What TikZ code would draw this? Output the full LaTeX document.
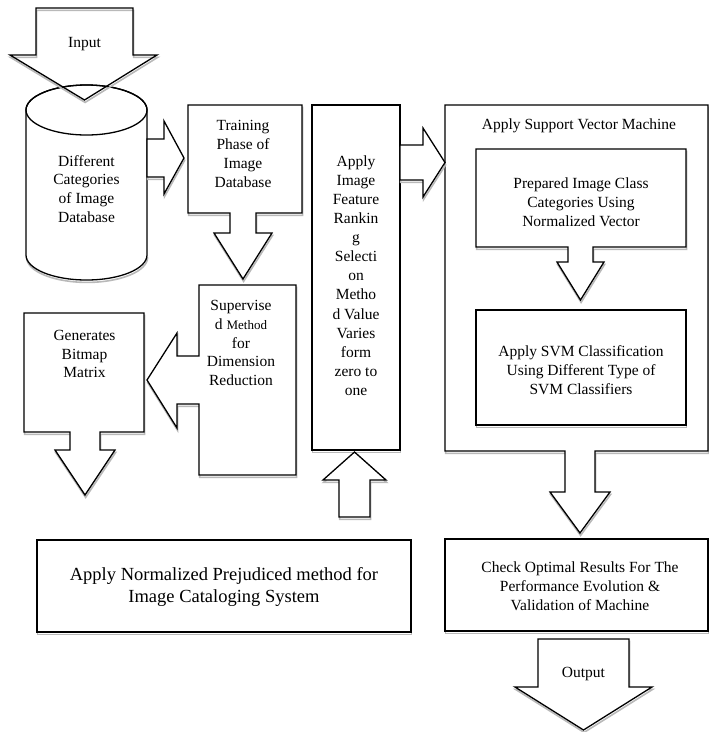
\documentclass[tikz,border=0pt]{standalone}
\usepackage{fontspec}
\setmainfont{Liberation Serif}
\newcommand\mkshape[2]{\draw[shd,shift={(0.6,2.4)}] #2; \path[#1] #2;}
\begin{document}
\begin{tikzpicture}[x=1pt,y=-1pt,
  shp/.style={draw=black, line width=1.3pt, fill=white, line join=miter},
  shpnofill/.style={draw=black, line width=1.3pt, line join=miter},
  shd/.style={draw=gray!55, line width=1.6pt},
  txt/.style={align=center, inner sep=0pt, font=\fontsize{15.5}{18.8}\selectfont}]
\useasboundingbox (0,0) rectangle (709,732);

% SVM outer callout with down arrow
\mkshape{shp}{(445,105) -- (708,105) -- (708,451) -- (595,451) -- (595,492) -- (610,492) -- (580,533) -- (550,492) -- (565,492) -- (565,451) -- (445,451) -- cycle}
% inner box 1 callout
\mkshape{shp}{(476,149) -- (686,149) -- (686,247) -- (593,247) -- (593,262) -- (604,262) -- (580.5,300) -- (557,262) -- (568,262) -- (568,247) -- (476,247) -- cycle}
% inner box 2
\mkshape{shp}{(476,310) rectangle (686,425)}
% check box
\mkshape{shp}{(445,539) rectangle (708,631)}
% output arrow
\mkshape{shp}{(538,639) -- (629,639) -- (629,687) -- (652,687) -- (583.5,730) -- (515,687) -- (538,687) -- cycle}
% normalized box
\mkshape{shp}{(37,540) rectangle (411,632)}
% ranking box
\mkshape{shp}{(312,105) rectangle (400,450)}
% ranking -> svm arrow
\mkshape{shp}{(400,145) -- (423,145) -- (423,128) -- (445,162.5) -- (423,197) -- (423,180) -- (400,180) -- cycle}
% up arrow into ranking box
\mkshape{shp}{(354.5,452) -- (386,480) -- (370,480) -- (370,517) -- (339,517) -- (339,480) -- (323,480) -- cycle}
% cylinder
\draw[shd,shift={(0.6,2.4)}] (26,255) arc[start angle=180,end angle=360,x radius=60.5pt,y radius=25pt];
\path[shp] (26,110) -- (26,255) arc[start angle=180,end angle=360,x radius=60.5pt,y radius=25pt] -- (147,110) arc[start angle=0,end angle=180,x radius=60.5pt,y radius=25pt] -- cycle;
\draw[shpnofill] (86.5,110) ellipse[x radius=60.5pt,y radius=25pt];
% input arrow
\mkshape{shpnofill}{(36,8) -- (133,8) -- (133,55) -- (157,55) -- (84.5,100) -- (10,55) -- (36,55) -- cycle}
% cylinder -> training arrow
\mkshape{shp}{(147,139) -- (164,139) -- (164,121) -- (184,158) -- (164,194) -- (164,177) -- (147,177) -- cycle}
% training callout
\mkshape{shp}{(188,105) -- (302,105) -- (302,213) -- (256,213) -- (256,233) -- (272,233) -- (243,279) -- (214,233) -- (230,233) -- (230,213) -- (188,213) -- cycle}
% supervised callout (left arrow)
\mkshape{shp}{(199,285) -- (296,285) -- (296,475) -- (199,475) -- (199,404) -- (177,404) -- (177,428) -- (147,380) -- (177,333) -- (177,356) -- (199,356) -- cycle}
% generates callout
\mkshape{shp}{(24,313) -- (144,313) -- (144,432) -- (100,432) -- (100,450) -- (115,450) -- (85,495) -- (55,450) -- (70,450) -- (70,432) -- (24,432) -- cycle}

% texts
\node[txt] (input) at (84.5,44) {Input};
\node[txt] (cyl) at (86.5,189) {Different\\Categories\\of Image\\Database};
\node[txt] (train) at (243,154) {Training\\Phase of\\Image\\Database};
\node[txt] (sup) at (241,343) {Supervise\\d {\fontsize{13}{18.8}\selectfont Method}\\for\\Dimension\\Reduction};
\node[txt] (gen) at (84.5,354) {Generates\\Bitmap\\Matrix};
\node[txt, font=\fontsize{15.5}{19.1}\selectfont] (rank) at (356,275.5) {Apply\\Image\\Feature\\Rankin\\g\\Selecti\\on\\Metho\\d Value\\Varies\\form\\zero to\\one};
\node[txt] (svm) at (579,126) {Apply Support Vector Machine};
\node[txt] (prep) at (581,202.5) {Prepared Image Class\\Categories Using\\Normalized Vector};
\node[txt] (cls) at (581,370) {Apply SVM Classification\\Using Different Type of\\SVM Classifiers};
\node[txt] (chk) at (580,586) {Check Optimal Results For The\\Performance Evolution \&\\Validation of Machine};
\node[txt, font=\fontsize{18.5}{22}\selectfont] (norm) at (224,587) {Apply Normalized Prejudiced method for\\Image Cataloging System};
\node[txt] (out) at (583.5,674) {Output};
\end{tikzpicture}
\end{document}
